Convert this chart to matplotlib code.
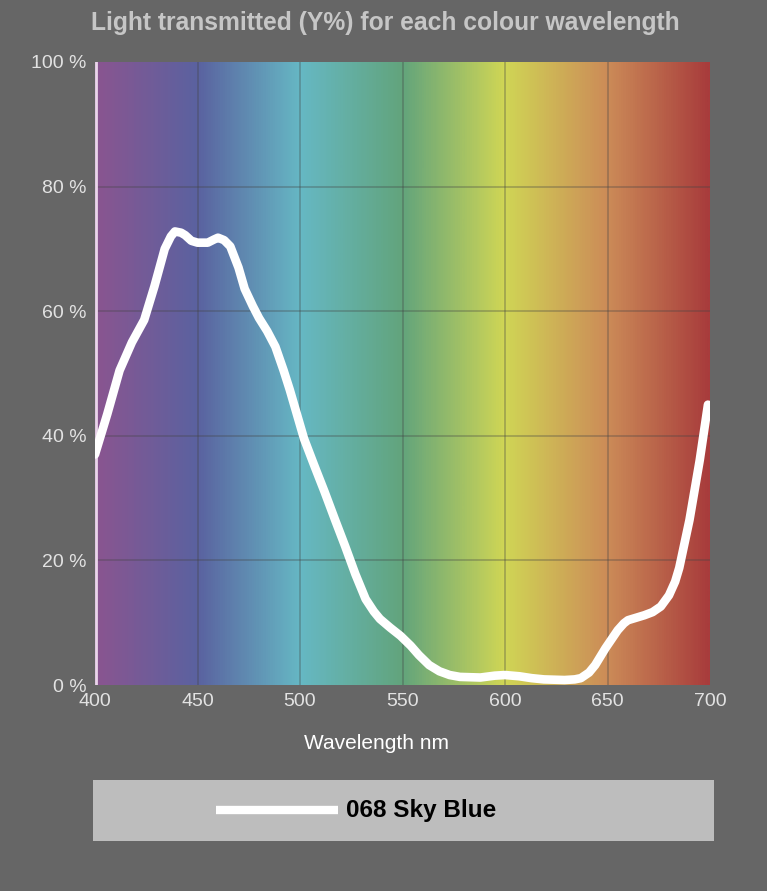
import numpy as np
import matplotlib
matplotlib.use("Agg")
import matplotlib.pyplot as plt
from matplotlib.colors import LinearSegmentedColormap

plt.rcParams['font.family'] = ['Liberation Sans', 'DejaVu Sans']

# transmission curve (nm, %)
wavelength = [400, 406, 412, 418, 424, 429, 434, 437, 439, 442, 444, 447, 450,
              455, 458, 460, 463, 466, 470, 473, 477, 480, 484, 488, 492, 495,
              502, 507, 512, 517, 522, 527, 532, 536, 539, 544, 549, 554, 558,
              563, 568, 573, 578, 588, 595, 600, 607, 613, 619, 629, 634, 637,
              641, 644, 649, 655, 658, 660, 664, 668, 672, 676, 680, 683, 685,
              690, 695, 699]
transmission = [37, 43.5, 50.5, 55, 58.6, 64, 70, 72, 72.8, 72.6, 72.2, 71.3, 71,
                71, 71.5, 71.8, 71.4, 70.4, 67, 63.6, 60.8, 58.9, 56.8, 54.3, 50.5, 47.4,
                39.5, 35.2, 31, 26.6, 22.3, 17.8, 13.8, 11.8, 10.6, 9.2, 7.9, 6.3, 4.8,
                3.2, 2.2, 1.6, 1.3, 1.2, 1.5, 1.6, 1.4, 1.1, 0.9, 0.8, 0.9, 1.1,
                2, 3.2, 5.9, 8.8, 9.9, 10.4, 10.8, 11.2, 11.7, 12.6, 14.4, 16.6, 18.8,
                26.5, 36.1, 45]

x_ticks = [400, 450, 500, 550, 600, 650, 700]
y_ticks = [0, 20, 40, 60, 80, 100]
y_labels = ['0 %', '20 %', '40 %', '60 %', '80 %', '100 %']

spectrum_colors = ['#8a5590', '#5a62a0', '#66b8c4', '#62a47c',
                   '#d0d655', '#cc8c58', '#a83c3c']

title = 'Light transmitted (Y%) for each colour wavelength'
series_name = '068 Sky Blue'

bg = '#666666'
fig = plt.figure(figsize=(7.67, 8.91), dpi=100, facecolor=bg)
ax = fig.add_axes([95/767, 1-685/891, 615/767, 623/891])

# spectrum background
cmap = LinearSegmentedColormap.from_list('spec', spectrum_colors)
grad = np.linspace(0, 1, 600).reshape(1, -1)
ax.imshow(grad, cmap=cmap, aspect='auto', extent=[400, 700, 0, 100],
          origin='lower', zorder=0)

for xv in x_ticks[1:-1]:
    ax.axvline(xv, color='#444444', lw=1.1, alpha=0.4, zorder=1)
for yv in y_ticks[1:-1]:
    ax.axhline(yv, color='#444444', lw=1.1, alpha=0.4, zorder=1)
ax.axvline(400.4, color='#ead6ea', lw=2, zorder=2)

ax.plot(wavelength, transmission, color='white', lw=6.2,
        solid_capstyle='round', solid_joinstyle='round', zorder=3)

ax.set_xlim(400, 700)
ax.set_ylim(0, 100)
ax.set_xticks(x_ticks)
ax.set_yticks(y_ticks)
ax.set_yticklabels(y_labels)
ax.tick_params(length=0, colors='#e2e2e2', labelsize=14, pad=6)
for s in ax.spines.values():
    s.set_visible(False)
ax.set_xlabel('Wavelength nm', color='white', fontsize=15)
ax.xaxis.set_label_coords((376 - 95) / 615, -49 / 623)

fig.text(385/767, 1-23/891, title, color='#c6c6c6', fontsize=17.7,
         fontweight='bold', ha='center', va='center')

# legend strip
lax = fig.add_axes([93/767, 1-841/891, 621/767, 61/891])
lax.set_xlim(0, 621)
lax.set_ylim(0, 61)
lax.set_facecolor('#bdbdbd')
lax.set_xticks([])
lax.set_yticks([])
for s in lax.spines.values():
    s.set_visible(False)
lax.plot([123, 245], [31, 31], color='white', lw=6, solid_capstyle='butt')
lax.text(253, 31, series_name, color='black', fontsize=17.5, fontweight='bold',
         va='center', ha='left')

fig.savefig('out.png', dpi=100, facecolor=bg)
